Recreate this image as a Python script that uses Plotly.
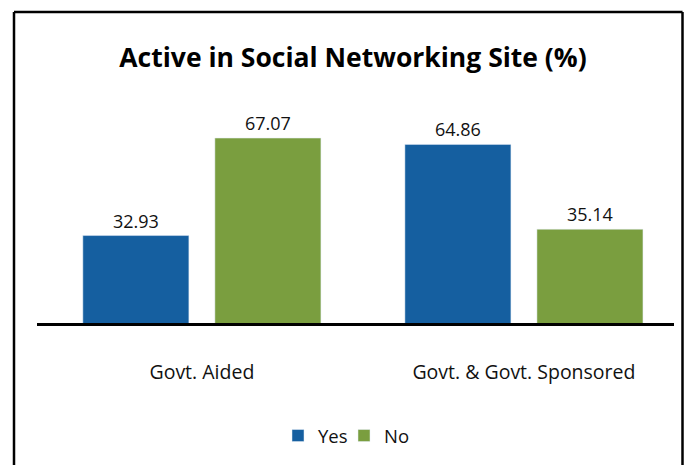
import plotly.graph_objects as go

categories = ["Govt. Aided", "Govt. & Govt. Sponsored"]
yes_values = [32.93, 64.86]
no_values = [67.07, 35.14]

BLUE = "#155FA0"
GREEN = "#7A9E3F"

W, H = 687, 465
L, R, T, B = 37, 13, 100, 141
plot_w = W - L - R
plot_h = H - T - B

fig = go.Figure()
fig.add_trace(go.Bar(
    name="Yes", x=categories, y=yes_values, marker_color=BLUE,
    text=[f"{v:.2f}" for v in yes_values], textposition="outside",
    textfont=dict(size=18, color="#111111"), cliponaxis=False,
))
fig.add_trace(go.Bar(
    name="No", x=categories, y=no_values, marker_color=GREEN,
    text=[f"{v:.2f}" for v in no_values], textposition="outside",
    textfont=dict(size=18, color="#111111"), cliponaxis=False,
))

# outer frame (left, top, right sides), converted from pixels to paper units
def px_x(x):
    return (x - L) / plot_w

def px_y(y):
    return (H - B - y) / plot_h

frame = dict(color="black", width=2.5)
x_left, x_right, y_top, y_bot = px_x(14), px_x(682.5), px_y(11.5), px_y(600)
for x0, y0, x1, y1 in [(x_left, y_bot, x_left, y_top),
                       (x_left, y_top, x_right, y_top),
                       (x_right, y_top, x_right, y_bot)]:
    fig.add_shape(type="line", xref="paper", yref="paper",
                  x0=x0, y0=y0, x1=x1, y1=y1, line=frame)

fig.update_layout(
    width=W, height=H,
    margin=dict(l=L, r=R, t=T, b=B, pad=0),
    paper_bgcolor="white", plot_bgcolor="white",
    font=dict(family="Open Sans", color="#111111", size=18),
    title=dict(text="<b>Active in Social Networking Site (%)</b>",
               font=dict(family="Open Sans", size=26.5, color="black"),
               x=353 / W, xanchor="center",
               y=1 - 58 / H, yanchor="middle"),
    barmode="group", bargap=0.18, bargroupgap=0.197,
    showlegend=True,
    legend=dict(orientation="h", x=px_x(344), xanchor="center",
                y=px_y(436), yanchor="middle",
                font=dict(size=18.5), itemwidth=30, traceorder="normal",
                entrywidth=21, entrywidthmode="pixels"),
    xaxis=dict(range=[-0.512, 1.466], showline=True, linecolor="black",
               linewidth=3, ticks="", ticklabelstandoff=30,
               tickfont=dict(size=19.5), showgrid=False, zeroline=False),
    yaxis=dict(range=[2.3, 2.3 + plot_h / 2.868], visible=False,
               showgrid=False, zeroline=False),
)

fig.write_html("out.html")
